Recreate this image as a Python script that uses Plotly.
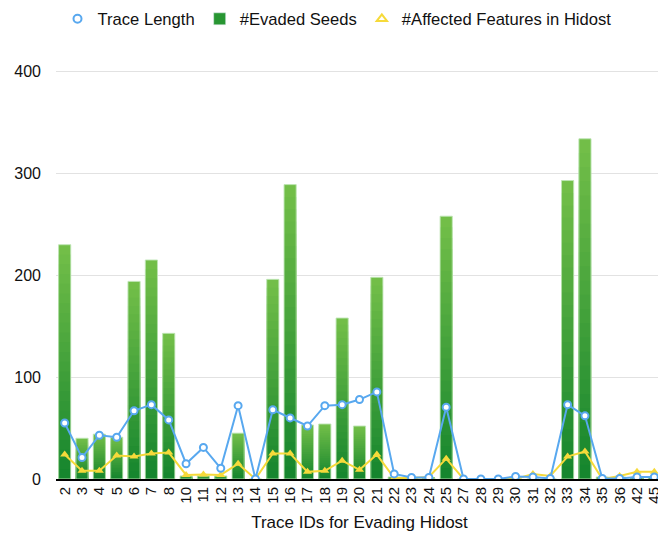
import plotly.graph_objects as go

trace_ids = ["2", "3", "4", "5", "6", "7", "8", "10", "11", "12", "13", "14", "15", "16", "17",
             "18", "19", "20", "21", "22", "23", "24", "25", "27", "28", "29", "30", "31", "32",
             "33", "34", "35", "36", "42", "45"]
evaded_seeds = [230, 40, 44, 41, 194, 215, 143, 3, 3, 3, 45, 0, 196, 289, 53,
                54, 158, 52, 198, 2, 1, 1, 258, 0, 0, 0, 0, 0, 0,
                293, 334, 2, 2, 2, 2]
trace_length = [55, 21, 43, 41, 67, 73, 58, 15, 31, 10.5, 72, 0, 68, 60, 52,
                72, 73, 78, 85.5, 5, 1.5, 1.5, 70.5, 0, 0, 0, 2.5, 2, 0.5,
                73, 62, 0.5, 0.5, 2, 2]
affected_features = [24, 8, 8, 23, 22, 25, 26, 4, 4.5, 4, 15, 0, 25, 25, 7,
                     8, 18, 9, 24, 1, 1, 2, 20, 0, 0, 0, 0, 5, 3,
                     22, 27, 0, 3, 7, 7]

fig = go.Figure()

# gradient bars: overlaid scaled copies, light at top, dark at bottom
N = 24
top_rgb = (114, 190, 72)
bot_rgb = (22, 134, 46)
for k in range(N):
    f = 1 - k / N
    t = k / (N - 1)
    c = tuple(round(top_rgb[i] + (bot_rgb[i] - top_rgb[i]) * t) for i in range(3))
    fig.add_trace(go.Bar(
        x=trace_ids, y=[v * f for v in evaded_seeds],
        marker=dict(color="rgb(%d,%d,%d)" % c, line=dict(width=0)),
        showlegend=False, hoverinfo="skip", name="#Evaded Seeds",
    ))
fig.add_trace(go.Bar(
    x=trace_ids, y=evaded_seeds,
    marker=dict(color="rgba(0,0,0,0)", line=dict(width=1, color="rgba(190,230,180,0.9)")),
    showlegend=False, name="#Evaded Seeds",
))

blue = "#58a8ef"
yellow = "#f6da3a"

fig.add_trace(go.Scatter(
    x=trace_ids, y=affected_features, mode="lines+markers",
    line=dict(color=yellow, width=2),
    marker=dict(symbol="triangle-up", size=8, color=yellow),
    showlegend=False, name="#Affected Features in Hidost",
))
fig.add_trace(go.Scatter(
    x=trace_ids, y=trace_length, mode="lines+markers",
    line=dict(color=blue, width=2),
    marker=dict(symbol="circle", size=7, color="white", line=dict(color=blue, width=2)),
    showlegend=False, name="Trace Length",
))

# legend entries
fig.add_trace(go.Scatter(
    x=[trace_ids[0]], y=[None], mode="markers", name="Trace Length", legendrank=1,
    marker=dict(symbol="circle", size=8, color="white", line=dict(color=blue, width=2)),
))
fig.add_trace(go.Bar(
    x=[trace_ids[0]], y=[None], name="#Evaded Seeds", legendrank=2,
    marker=dict(color="rgb(40,150,50)"),
))
fig.add_trace(go.Scatter(
    x=[trace_ids[0]], y=[None], mode="markers", name="#Affected Features in Hidost", legendrank=3,
    marker=dict(symbol="triangle-up-open", size=9, color=yellow, line=dict(width=2)),
))

font = "Liberation Sans, Arial, sans-serif"
fig.update_layout(
    width=658, height=525,
    margin=dict(l=48, r=3, t=33, b=54, autoexpand=False),
    paper_bgcolor="white", plot_bgcolor="white",
    barmode="overlay", bargap=0.3,
    font=dict(family=font, size=16, color="#111"),
    legend=dict(orientation="h", x=0.5, xanchor="center", xref="container",
                y=0.979, yanchor="middle", yref="container",
                font=dict(size=16.6), traceorder="normal", itemwidth=30),
    xaxis=dict(type="category", tickangle=-90, tickfont=dict(size=15),
               tickmode="array", tickvals=trace_ids, ticktext=trace_ids,
               range=[-0.5, len(trace_ids) - 0.5],
               showline=True, linecolor="black", linewidth=2, ticks="",
               title=dict(text="Trace IDs for Evading Hidost", font=dict(size=17), standoff=13),
               automargin=False),
    yaxis=dict(range=[0, 430], tickvals=[0, 100, 200, 300, 400],
               gridcolor="#e2e2e2", gridwidth=1, zeroline=False, showline=False,
               ticklabelstandoff=14, tickfont=dict(size=16), automargin=False),
)

fig.write_html("out.html")
